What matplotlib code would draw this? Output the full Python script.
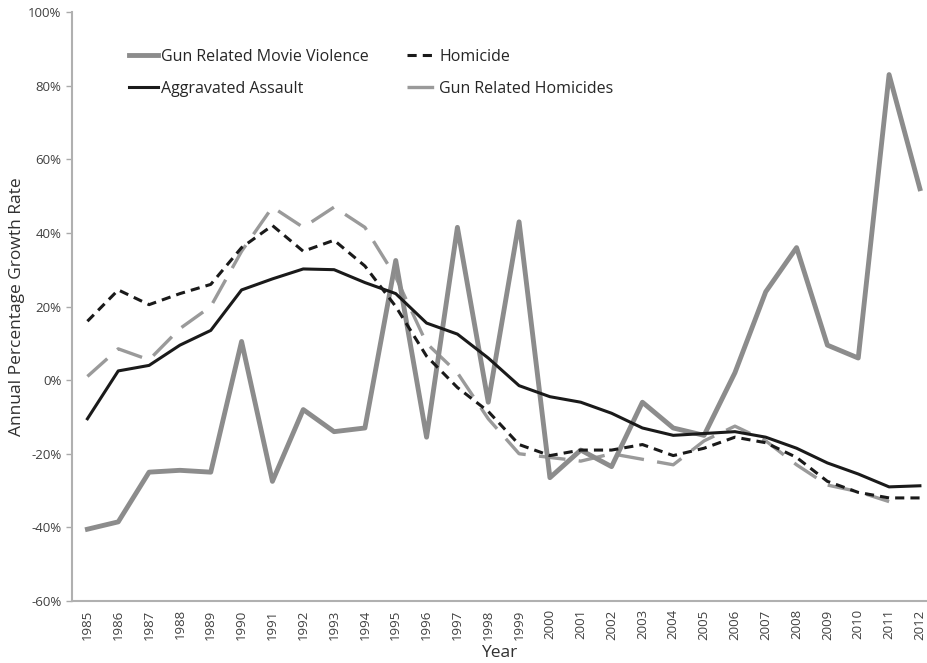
import numpy as np
import matplotlib
matplotlib.use("Agg")
import matplotlib.pyplot as plt
from matplotlib.ticker import FuncFormatter

plt.rcParams['font.family'] = ['Open Sans', 'DejaVu Sans']

years = list(range(1985, 2013))
movie_violence = [-40.5, -38.5, -25, -24.5, -25, 10.5, -27.5, -8, -14, -13,
                  32.5, -15.5, 41.5, -6, 43, -26.5, -19, -23.5, -6, -13,
                  -15, 2, 24, 36, 9.5, 6, 83, 52]
homicide = [16, 24.5, 20.5, 23.5, 26, 36, 42, 35, 38, 31,
            20, 6.5, -2, -8.5, -17.5, -20.5, -19, -19, -17.5, -20.5,
            -18.5, -15.5, -17, -21, -27.5, -30.5, -32, -32]
assault = [-10.5, 2.5, 4, 9.5, 13.5, 24.5, 27.5, 30.2, 30, 26.5,
           23.5, 15.5, 12.5, 6, -1.5, -4.5, -6, -9, -13, -15,
           -14.5, -14, -15.5, -18.5, -22.5, -25.5, -29, -28.7]
gun_homicides = [1, 8.5, 5.5, 14, 20, 35, 47, 41.5, 47, 41.5,
                 28, 10, 2, -10.5, -20, -21, -22, -20, -21.5, -23,
                 -16.5, -12.5, -16.5, -23, -28.5, -30.3, -33, np.nan]

fig = plt.figure(figsize=(9.27, 6.63), dpi=100)
ax = fig.add_axes([72/927, 1-601/663, 1-72/927, (601-12)/663])

ax.plot(years, movie_violence, color='#8c8c8c', lw=3.5, solid_joinstyle='round',
        label='Gun Related Movie Violence', zorder=3)
ax.plot(years, assault, color='#1a1a1a', lw=2.2, label='Aggravated Assault', zorder=4)
ax.plot(years, homicide, color='#1a1a1a', lw=2.2, linestyle=(0, (3, 2)),
        label='Homicide', zorder=5)
ax.plot(years, gun_homicides, color='#9a9a9a', lw=2.4, linestyle=(0, (8, 4)),
        label='Gun Related Homicides', zorder=2)

ax.set_xlim(1984.5, 2012.23)
ax.set_ylim(-60, 100)
ax.set_yticks(range(-60, 101, 20))
ax.yaxis.set_major_formatter(FuncFormatter(lambda v, p: f"{int(v)}%"))
ax.set_xticks(years)
ax.set_xticklabels([str(y) for y in years], rotation=90)
ax.tick_params(axis='both', labelsize=9.5, colors='#404040', length=4, width=1)
ax.tick_params(axis='x', length=0, pad=6)
ax.tick_params(axis='y', color='#aaaaaa')
for s in ['top', 'right']:
    ax.spines[s].set_visible(False)
for s in ['left', 'bottom']:
    ax.spines[s].set_color('#b0b0b0')
    ax.spines[s].set_linewidth(1.5)

ax.set_ylabel('Annual Percentage Growth Rate', fontsize=12.5, color='#303030', labelpad=2)
ax.set_xlabel('Year', fontsize=12.5, color='#303030', labelpad=4)

leg = ax.legend(ncol=2, loc='upper left', bbox_to_anchor=(0.05, 0.962), frameon=False,
                fontsize=11.5, handlelength=1.8, handletextpad=0.2, columnspacing=2.4,
                labelspacing=1.0)
for t in leg.get_texts():
    t.set_color('#262626')

fig.savefig('out.png', dpi=100)
